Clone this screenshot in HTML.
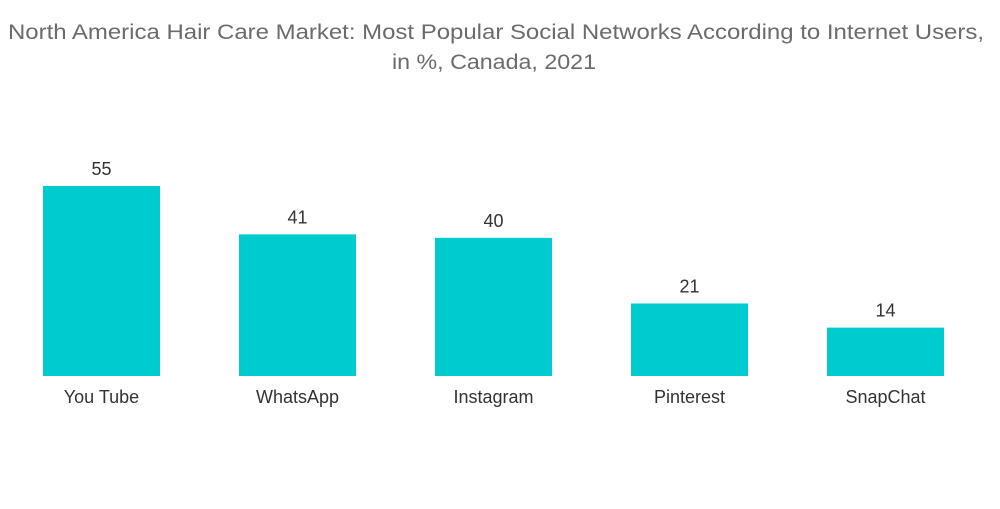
<!DOCTYPE html>
<html><head><meta charset="utf-8"><style>
body{margin:0;background:#fff;width:1000px;height:504px;overflow:hidden;font-family:"Liberation Sans",sans-serif}
</style></head><body>
<svg width="1000" height="504">
<text x="496" y="39" text-anchor="middle" font-size="21" fill="#6b6b6b" textLength="976" lengthAdjust="spacingAndGlyphs">North America Hair Care Market: Most Popular Social Networks According to Internet Users,</text>
<text x="494" y="69" text-anchor="middle" font-size="21" fill="#6b6b6b" textLength="204" lengthAdjust="spacingAndGlyphs">in %, Canada, 2021</text>
<g id="bars"></g>
</svg>
<script>
const categories=["You Tube","WhatsApp","Instagram","Pinterest","SnapChat"];
const values=[55,41,40,21,14];
const baseY=376, scale=190/55, x0=43, step=196, bw=117;
function y(v){return baseY-v*scale;}
function x(i){return x0+i*step;}
const g=document.getElementById('bars'),ns="http://www.w3.org/2000/svg";
values.forEach((v,i)=>{
 const r=document.createElementNS(ns,'rect');
 r.setAttribute('x',x(i));r.setAttribute('y',y(v));r.setAttribute('width',bw);r.setAttribute('height',baseY-y(v));r.setAttribute('fill','#00cccf');
 
 
 g.appendChild(r);
 const t=document.createElementNS(ns,'text');
 t.setAttribute('x',x(i)+bw/2);t.setAttribute('y',y(v)-11);t.setAttribute('text-anchor','middle');t.setAttribute('font-size','18');t.setAttribute('fill','#333');
 t.textContent=v;
 
 
 g.appendChild(t);
 const c=document.createElementNS(ns,'text');
 c.setAttribute('x',x(i)+bw/2);c.setAttribute('y',403);c.setAttribute('text-anchor','middle');c.setAttribute('font-size','18');c.setAttribute('fill','#333');
 c.textContent=categories[i];
 
 
 g.appendChild(c);
});
</script>
</body></html>
